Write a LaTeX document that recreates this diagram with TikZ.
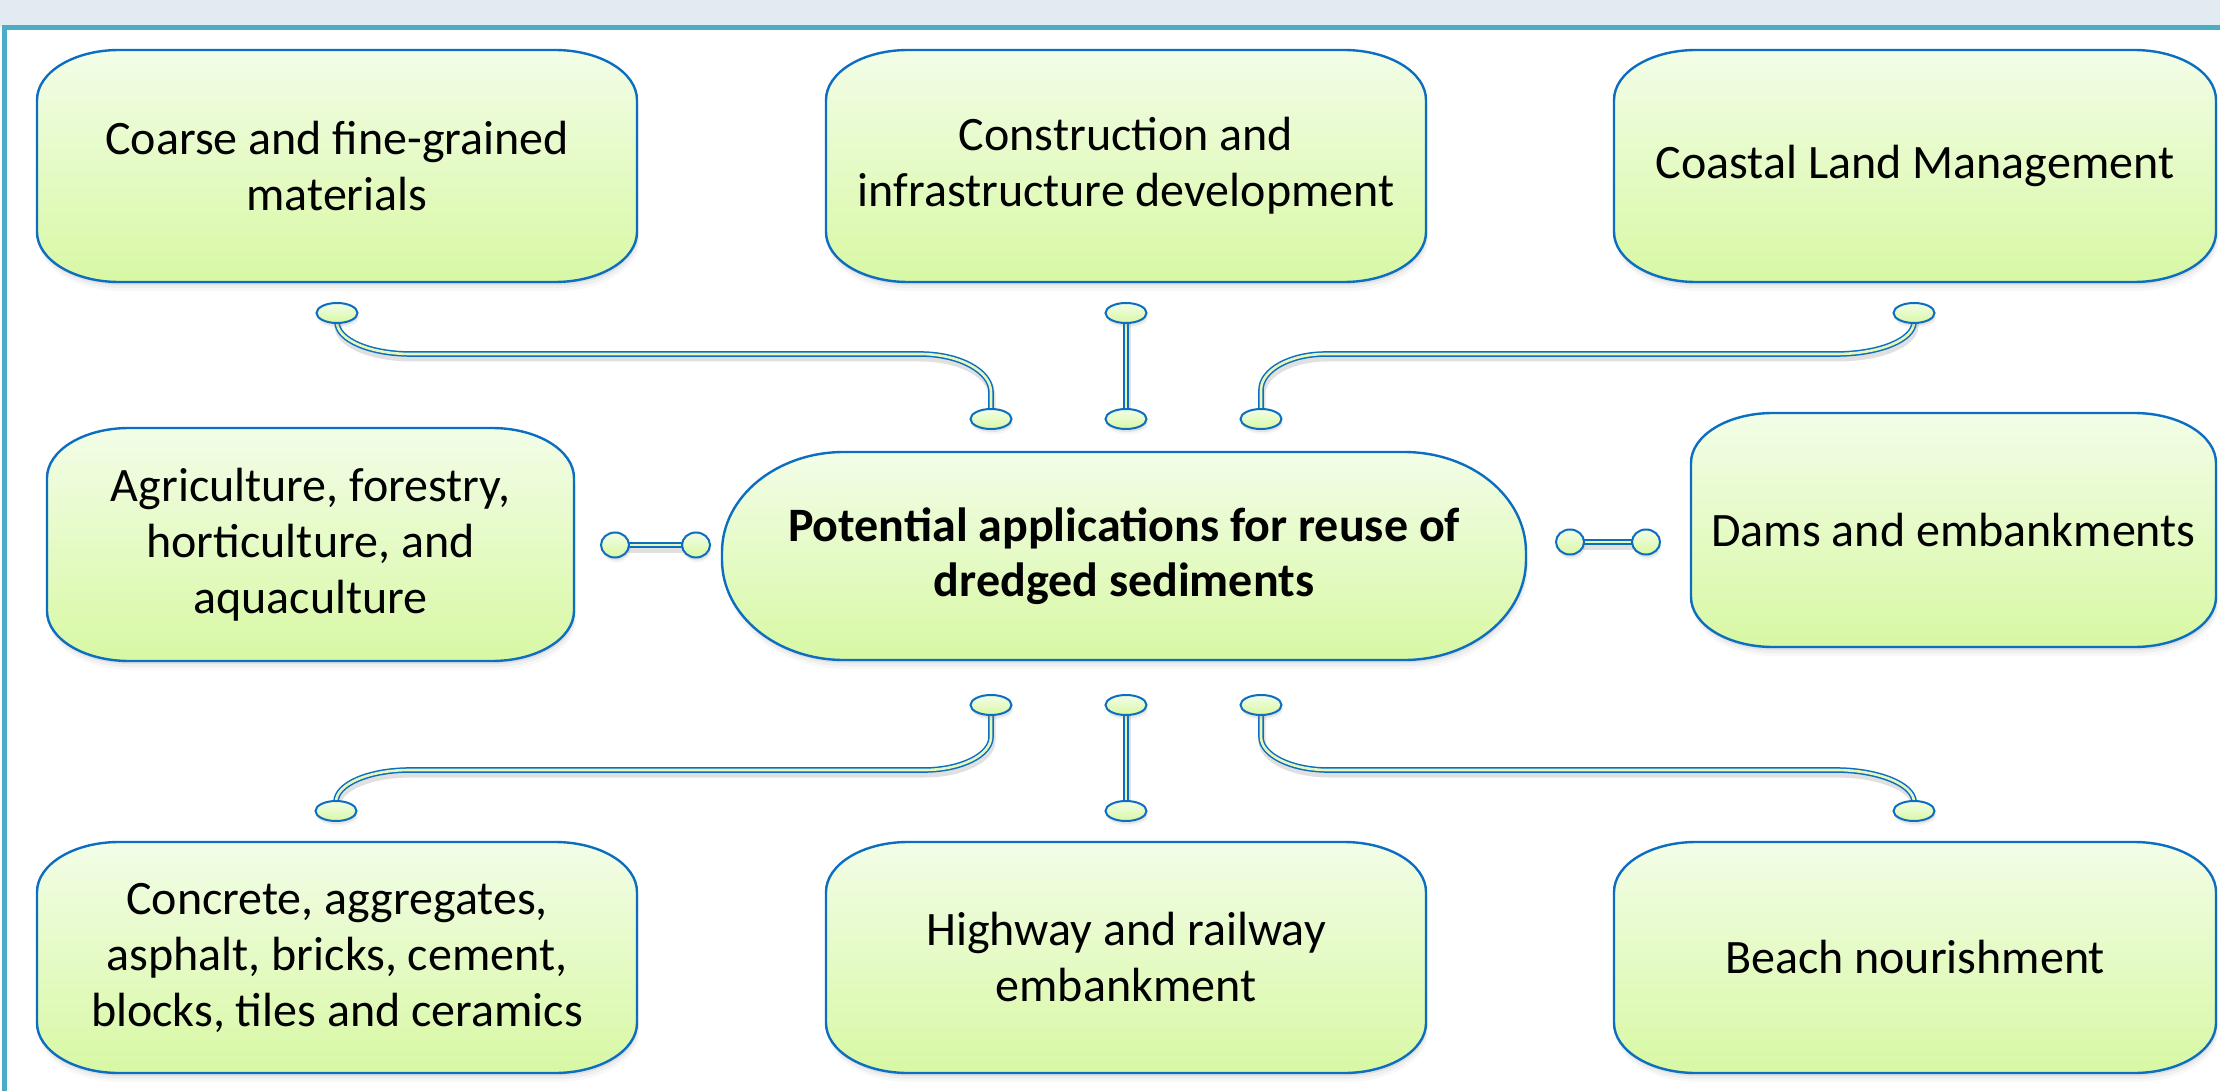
\documentclass[tikz,border=0pt]{standalone}
\usepackage{fontspec}
\setmainfont{Carlito}
\usetikzlibrary{shapes.geometric,shadows,calc,backgrounds}
\pgfdeclarelayer{bg}
\pgfdeclarelayer{mid}
\pgfsetlayers{bg,mid,main}
\definecolor{bandcol}{HTML}{E2EAF2}
\definecolor{frameteal}{HTML}{4BACC6}
\definecolor{bblue}{HTML}{0B6EC0}
\definecolor{ftop}{HTML}{F2FDE7}
\definecolor{fbot}{HTML}{D8F8A4}
\definecolor{cin}{HTML}{E6F7BC}
\tikzset{
  boxline/.style={draw=bblue, line width=2.4pt, top color=ftop, bottom color=fbot,
    drop shadow={shadow xshift=1pt, shadow yshift=-3pt, opacity=0.12},
    drop shadow={shadow xshift=1.5pt, shadow yshift=-6pt, opacity=0.08},
    drop shadow={shadow xshift=2pt, shadow yshift=-9pt, opacity=0.05}},
  lbl/.style={align=center, inner sep=0pt, outer sep=0pt,
    font=\fontsize{48}{56}\selectfont, text=black},
  ellip/.style={ellipse, draw=bblue, line width=2pt, top color=ftop, bottom color=fbot,
    inner sep=0pt, outer sep=0pt, minimum width=41pt, minimum height=20pt,
    drop shadow={shadow xshift=1pt, shadow yshift=-3pt, opacity=0.14},
    drop shadow={shadow xshift=1.5pt, shadow yshift=-5pt, opacity=0.08}},
  sidel/.style={ellip, minimum width=28pt, minimum height=25pt},
  conn/.style={draw=bblue, line width=1.5pt, double=cin, double distance=2.6pt},
  connsh/.style={draw=black, draw opacity=0.12, line width=7pt},
}
\newcommand\shapebox[3]{%
  \draw[boxline] ($(#1.north west)+(#2,0)$) -- ($(#1.north east)+(-#2,0)$)
    arc[start angle=90,end angle=0,x radius=#2pt,y radius=#3pt]
    -- ($(#1.south east)+(0,-#3)$)
    arc[start angle=0,end angle=-90,x radius=#2pt,y radius=#3pt]
    -- ($(#1.south west)+(#2,0)$)
    arc[start angle=-90,end angle=-180,x radius=#2pt,y radius=#3pt]
    -- ($(#1.north west)+(0,#3)$)
    arc[start angle=180,end angle=90,x radius=#2pt,y radius=#3pt]
    -- cycle;}
\begin{document}
\begin{tikzpicture}[x=1pt,y=-1pt]
\useasboundingbox (0,0) rectangle (2220,1091);
\begin{pgfonlayer}{bg}
  \fill[white] (0,0) rectangle (2220,1091);
  \fill[bandcol] (0,0) rectangle (2220,27);
  \draw[frameteal, line width=5pt] (4.5,1091) -- (4.5,27.5) -- (2220,27.5);
\end{pgfonlayer}

% text boxes
\node[lbl, minimum width=600pt, minimum height=232pt] (tl) at (337,166) {Coarse and fine-grained\\materials};
\node[lbl, minimum width=600pt, minimum height=232pt] (tc) at (1126,166) {Construction and\\infrastructure development};
\node[lbl, minimum width=602pt, minimum height=232pt] (tr) at (1915,166) {Coastal Land Management};
\node[lbl, minimum width=527pt, minimum height=233pt] (ml) at (310.5,544.5) {Agriculture, forestry,\\horticulture, and\\aquaculture};
\node[lbl, font=\fontsize{48}{55}\selectfont\bfseries, minimum width=804pt, minimum height=208pt] (ctr) at (1124,556) {Potential applications for reuse of\\dredged sediments};
\node[lbl, minimum width=525pt, minimum height=234pt] (mr) at (1953.5,530) {Dams and embankments};
\node[lbl, minimum width=600pt, minimum height=231pt] (bl) at (337,957.5) {Concrete, aggregates,\\asphalt, bricks, cement,\\blocks, tiles and ceramics};
\node[lbl, minimum width=600pt, minimum height=231pt] (bc) at (1126,957.5) {Highway and railway\\embankment};
\node[lbl, minimum width=602pt, minimum height=231pt] (br) at (1915,957.5) {Beach nourishment};

\begin{pgfonlayer}{mid}
  \shapebox{tl}{82}{50}
  \shapebox{tc}{82}{50}
  \shapebox{tr}{82}{50}
  \shapebox{ml}{82}{50}
  \shapebox{ctr}{122}{100}
  \shapebox{mr}{82}{50}
  \shapebox{bl}{82}{50}
  \shapebox{bc}{82}{50}
  \shapebox{br}{82}{50}
\end{pgfonlayer}

% connector terminals
\node[ellip] (e1) at (337,313) {};
\node[ellip] (e2) at (991,419) {};
\node[ellip] (e3) at (1126,313) {};
\node[ellip] (e4) at (1126,419) {};
\node[ellip] (e5) at (1914,313) {};
\node[ellip] (e6) at (1261,419) {};
\node[sidel] (e7) at (615,545) {};
\node[sidel] (e8) at (696,545) {};
\node[sidel] (e9) at (1570,542) {};
\node[sidel] (e10) at (1646,542) {};
\node[ellip] (e11) at (991,705) {};
\node[ellip] (e12) at (336,811) {};
\node[ellip] (e13) at (1126,705) {};
\node[ellip] (e14) at (1126,811) {};
\node[ellip] (e15) at (1261,705) {};
\node[ellip] (e16) at (1914,811) {};

\begin{pgfonlayer}{bg}
  \path[save path=\pA] (e1.center) -- (337,322) .. controls (337,340) and (370,354) .. (411,354)
     -- (920,354) .. controls (959,354) and (991,371) .. (991,392) -- (e2.center);
  \path[save path=\pB] (e3.center) -- (e4.center);
  \path[save path=\pC] (e5.center) -- (1914,322) .. controls (1914,340) and (1879,354) .. (1836,354)
     -- (1326,354) .. controls (1290,354) and (1261,370) .. (1261,390) -- (e6.center);
  \path[save path=\pD] (e7.center) -- (e8.center);
  \path[save path=\pE] (e9.center) -- (e10.center);
  \path[save path=\pF] (e11.center) -- (991,737) .. controls (991,755) and (961,770) .. (924,770)
     -- (410,770) .. controls (369,770) and (336,784) .. (336,802) -- (e12.center);
  \path[save path=\pG] (e13.center) -- (e14.center);
  \path[save path=\pH] (e15.center) -- (1261,737) .. controls (1261,755) and (1291,770) .. (1328,770)
     -- (1836,770) .. controls (1877,770) and (1914,784) .. (1914,802) -- (e16.center);
  \begin{scope}[transform canvas={shift={(1pt,-4pt)}}]
    \draw[connsh, use path=\pA];
    \draw[connsh, use path=\pB];
    \draw[connsh, use path=\pC];
    \draw[connsh, use path=\pD];
    \draw[connsh, use path=\pE];
    \draw[connsh, use path=\pF];
    \draw[connsh, use path=\pG];
    \draw[connsh, use path=\pH];
  \end{scope}
  \draw[conn, use path=\pA];
  \draw[conn, use path=\pB];
  \draw[conn, use path=\pC];
  \draw[conn, use path=\pD];
  \draw[conn, use path=\pE];
  \draw[conn, use path=\pF];
  \draw[conn, use path=\pG];
  \draw[conn, use path=\pH];
\end{pgfonlayer}
\end{tikzpicture}
\end{document}
